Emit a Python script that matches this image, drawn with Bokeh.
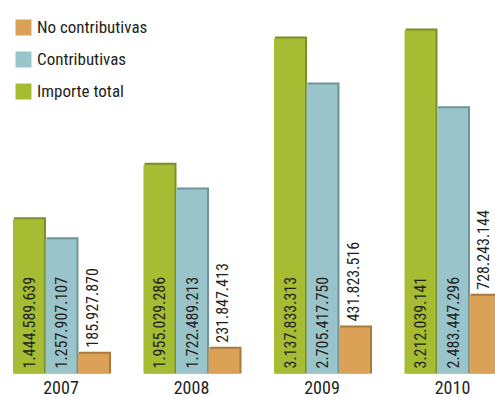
import math
from bokeh.plotting import figure
from bokeh.models import ColumnDataSource, Legend, LegendItem, Range1d
from bokeh.core.properties import value
from bokeh.embed import file_html
from bokeh.resources import INLINE

years = ["2007", "2008", "2009", "2010"]
importe_total = [1444589639, 1955029286, 3137833313, 3212039141]
contributivas = [1257907107, 1722489213, 2705417750, 2483447296]
no_contributivas = [185927870, 231847413, 431823516, 728243144]

FONT_NAME = "Roboto Condensed"
FONT = value(FONT_NAME)

W, H = 495, 398
px_x = 130.5            # pixels per group
px_y = 106.8 / 1e9      # pixels per unit value
x0 = (0 - 60.5) / px_x
x1 = (W - 60.5) / px_x
y0 = -25 / px_y
y1 = (H - 25) / px_y

p = figure(width=W, height=H, x_range=Range1d(x0, x1), y_range=Range1d(y0, y1),
           output_backend="svg", toolbar_location=None,
           x_axis_type=None, y_axis_type=None, min_border=0)
p.grid.visible = False
p.outline_line_color = None
p.background_fill_color = "white"
p.border_fill_color = "white"

bw = 31 / px_x
off = 32.5 / px_x
dx = 1.5 / px_x
dy = 2 / px_y

series = [
    ("Importe total", importe_total, -off, "#a6bd33", "#7b8f26"),
    ("Contributivas", contributivas, 0.0, "#99c4ca", "#6d959a"),
    ("No contributivas", no_contributivas, off, "#dba257", "#a97a3b"),
]

renderers = {}
idx = list(range(len(years)))
for name, vals, o, col, dark in series:
    xs = [i + o for i in idx]
    src = ColumnDataSource(dict(
        x=xs, top=vals,
        xb=[x + dx for x in xs], topb=[v + dy for v in vals],
        lab=[f"{v:,}".replace(",", ".") for v in vals],
    ))
    p.vbar(x="xb", top="topb", bottom=0, width=bw + 1 / px_x, source=src,
           fill_color=dark, line_color=None)
    r = p.vbar(x="x", top="top", bottom=0, width=bw, source=src,
               fill_color=col, line_color=None)
    renderers[name] = r
    if name == "No contributivas":
        p.text(x="x", y="top", text="lab", source=src, angle=math.pi / 2,
               text_align="left", text_baseline="middle", y_offset=-6, x_offset=-2,
               text_font=FONT, text_font_size="16px", text_color="#231f20")
    else:
        p.text(x="x", y=0, text="lab", source=src, angle=math.pi / 2,
               text_align="left", text_baseline="middle", y_offset=-5,
               text_font=FONT, text_font_size="16px", text_color="#231f20")

ysrc = ColumnDataSource(dict(x=idx, y=[0] * len(years), t=years))
p.text(x="x", y="y", text="t", source=ysrc, text_align="center",
       text_baseline="middle", y_offset=14, text_font=FONT,
       text_font_size="18px", text_color="#231f20")

legend = Legend(items=[
    LegendItem(label="No contributivas", renderers=[renderers["No contributivas"]]),
    LegendItem(label="Contributivas", renderers=[renderers["Contributivas"]]),
    LegendItem(label="Importe total", renderers=[renderers["Importe total"]]),
], location=(13, 297))
legend.background_fill_alpha = 0
legend.border_line_color = None
legend.padding = 0
legend.margin = 0
legend.spacing = 12
legend.glyph_width = 20
legend.glyph_height = 20
legend.label_height = 20
legend.label_standoff = 4
legend.label_text_font = FONT_NAME
legend.label_text_font_size = "17px"
legend.label_text_color = "#231f20"
legend.label_text_baseline = "middle"
p.add_layout(legend, "center")

open("out.html", "w").write(file_html(p, INLINE))
